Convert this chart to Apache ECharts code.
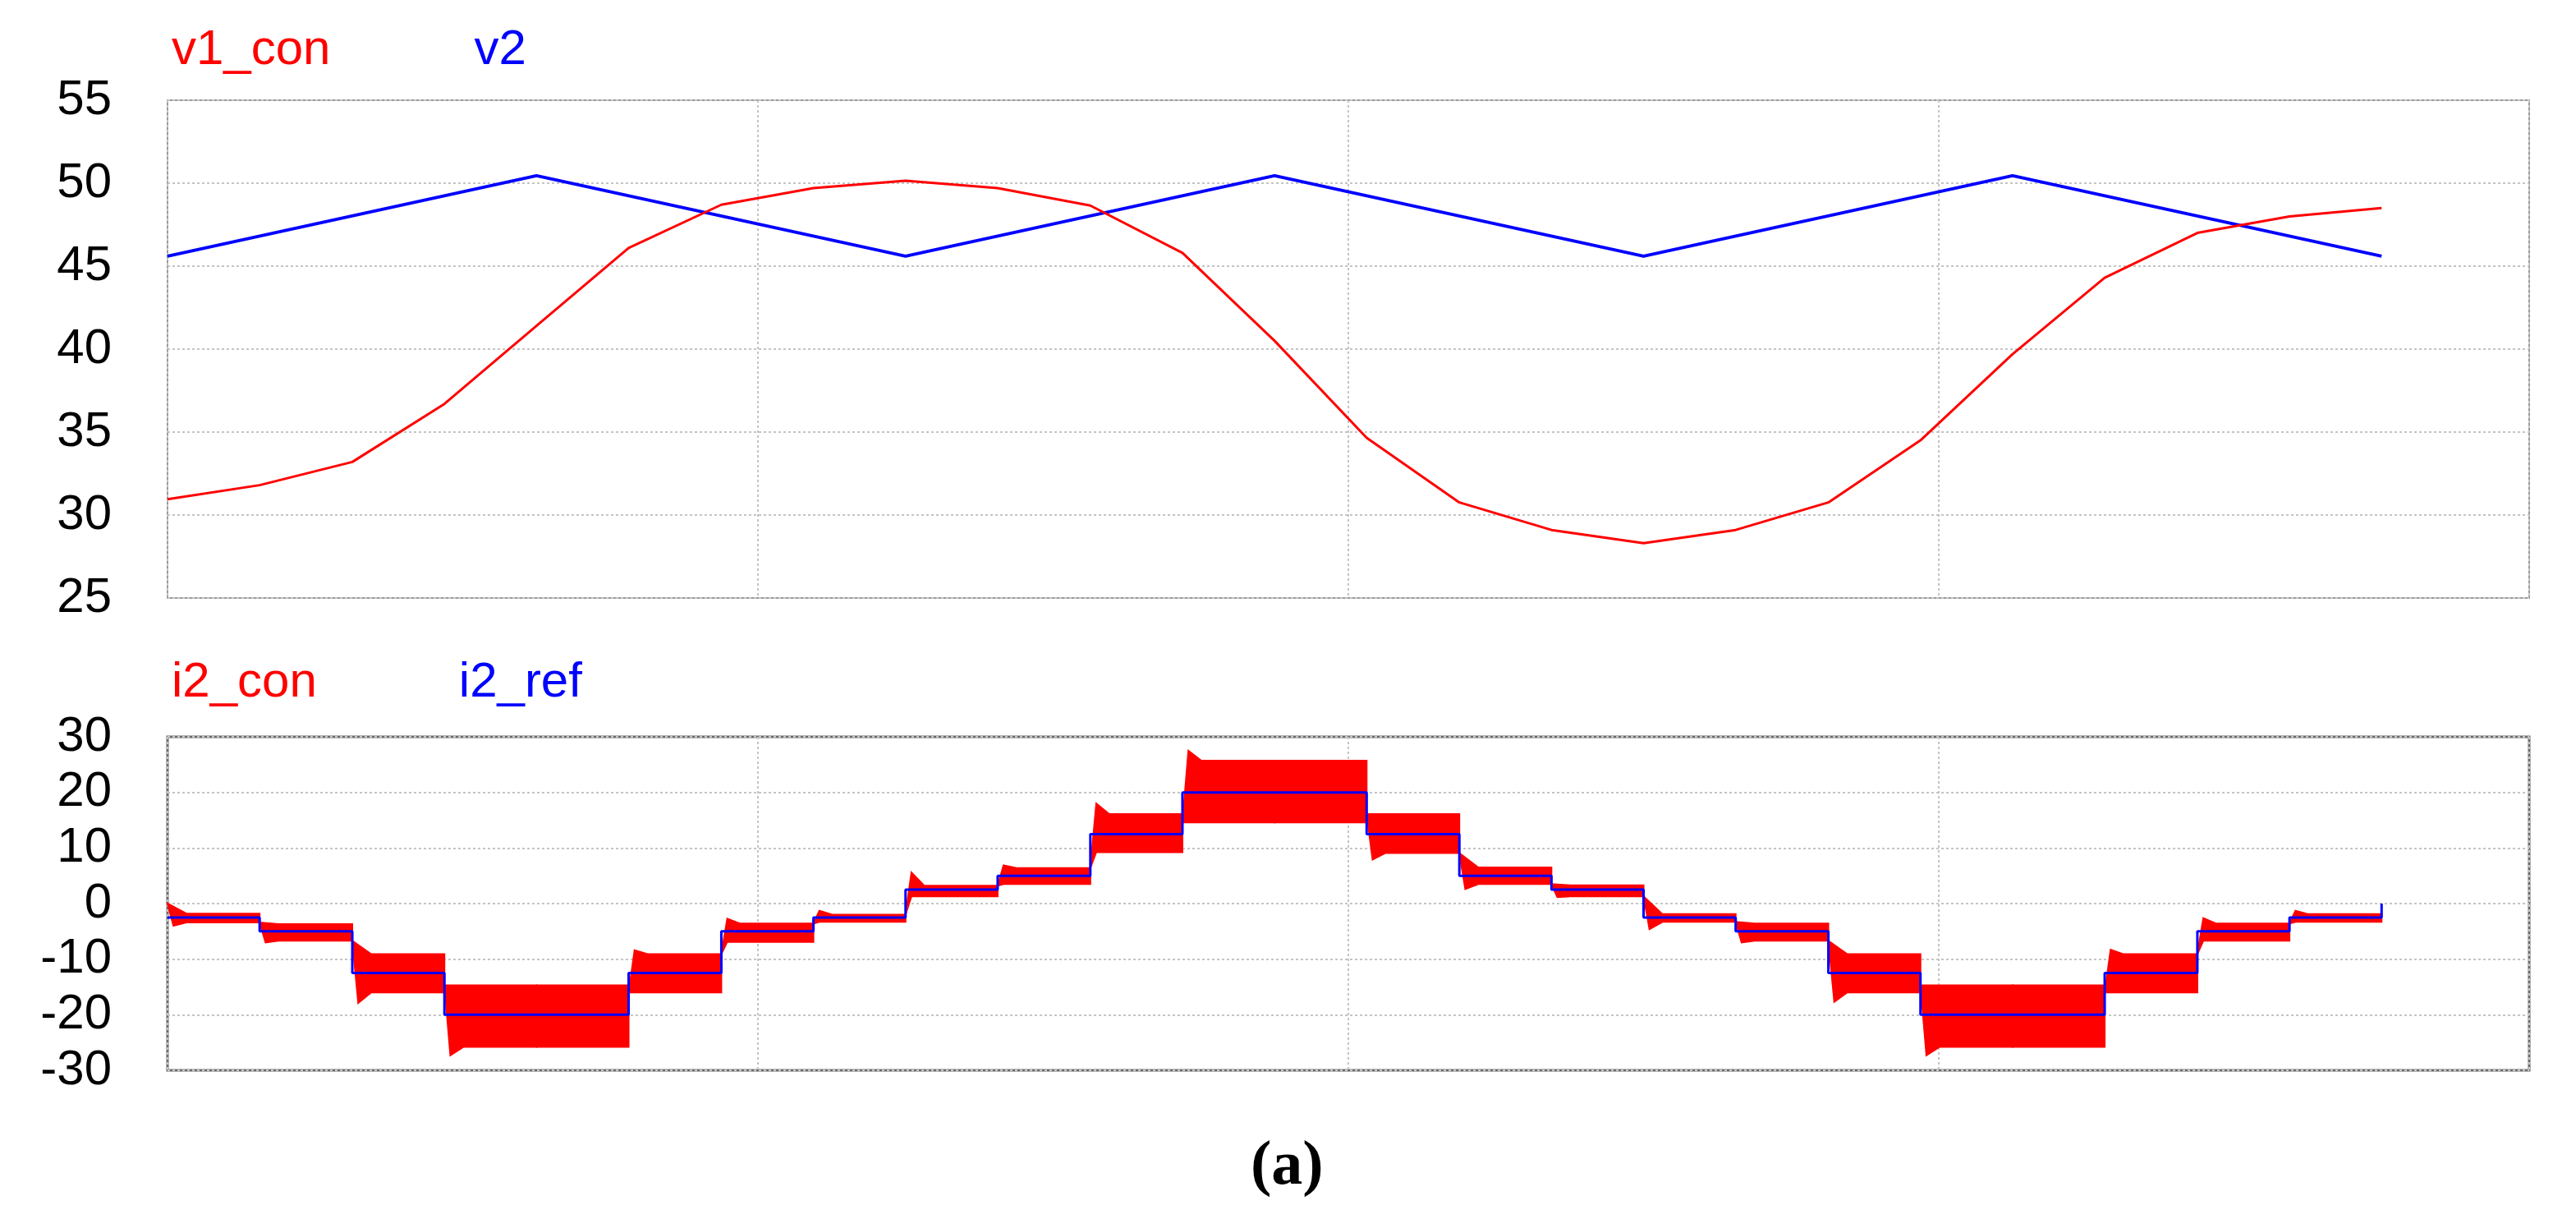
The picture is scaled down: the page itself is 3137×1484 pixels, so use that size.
<!DOCTYPE html>
<html><head><meta charset="utf-8">
<script src="https://cdn.jsdelivr.net/npm/echarts@6/dist/echarts.min.js"></script>
<style>html,body{margin:0;padding:0;background:#fff}#c{width:3137px;height:1484px}</style>
</head><body><div id="c"></div>
<script>
// ---- top panel: voltages ----
const v1Times = [0,0.156,0.313,0.469,0.625,0.781,0.938,1.094,1.25,1.406,1.563,1.719,1.875,2.031,2.188,2.344,2.5,2.656,2.813,2.969,3.125,3.281,3.438,3.594,3.75];
const v1Con   = [30.95,31.8,33.2,36.7,41.4,46.1,48.7,49.7,50.15,49.7,48.65,45.8,40.5,34.65,30.76,29.1,28.3,29.1,30.76,34.5,39.7,44.3,47.0,48.0,48.5];
const v2Times = [0,0.625,1.25,1.875,2.5,3.125,3.75];
const v2      = [45.6,50.45,45.6,50.45,45.6,50.45,45.6];
const topYMin = 25, topYMax = 55, topYStep = 5;

// ---- bottom panel: currents ----
const stepTimes = [0,0.156,0.313,0.469,0.625,0.781,0.938,1.094,1.25,1.406,1.563,1.719,1.875,2.031,2.188,2.344,2.5,2.656,2.813,2.969,3.125,3.281,3.438,3.594,3.75];
const i2Ref     = [-2.5,-5,-12.5,-20,-20,-12.5,-5,-2.5,2.5,5,12.5,20,20,12.5,5,2.5,-2.5,-5,-12.5,-20,-20,-12.5,-5,-2.5,0];
const i2ConHigh = [-1.8,-3.7,-9.1,-14.7,-14.7,-9.1,-3.6,-2.0,3.2,6.4,16.1,25.7,25.7,16.1,6.5,3.3,-1.9,-3.6,-9.1,-14.7,-14.7,-9.1,-3.6,-1.9];
const i2ConLow  = [-3.4,-6.7,-16.0,-25.8,-25.8,-16.0,-6.9,-3.3,1.3,3.5,9.25,14.6,14.6,9.1,3.5,1.3,-3.3,-6.7,-16.0,-25.8,-25.8,-16.0,-6.7,-3.3];
const i2ConPeak = [-4.0,-7.0,-17.9,-27.3,null,-8.4,-2.7,-1.3,5.6,6.9,18.0,27.5,null,7.9,2.6,1.15,-4.6,-7.0,-17.7,-27.3,null,-8.3,-2.6,-1.3];
const botYMin = -30, botYMax = 30, botYStep = 10;
const xMin = 0, xMax = 4, xStep = 1;

const FONT = 'Liberation Sans, Arial, sans-serif';
const D1 = 0.01, D2 = 0.032;

const bandData = i2ConLow.map((lo, k) => [stepTimes[k], stepTimes[k + 1], lo, i2ConHigh[k]]);

function renderBand(params, api) {
  const k = params.dataIndex;
  const t0 = api.value(0), t1 = api.value(1), lo = api.value(2), hi = api.value(3);
  const pk = i2ConPeak[k];
  const prevLo = k === 0 ? 0 : i2ConLow[k - 1];
  const prevHi = k === 0 ? 0 : i2ConHigh[k - 1];
  let pts;
  if (pk == null) {
    pts = [[t0, hi], [t1, hi], [t1, lo], [t0, lo]];
  } else if (pk > hi) {
    const s = Math.min(lo, prevHi);
    pts = [[t0, s], [t0 + D1, pk], [t0 + D2, hi], [t1, hi], [t1, lo], [t0 + D1, lo]];
  } else {
    const s = Math.max(hi, prevLo);
    pts = [[t0, s], [t0 + D2, hi], [t1, hi], [t1, lo], [t0 + D2, lo], [t0 + D1, pk]];
  }
  return {
    type: 'polygon',
    shape: { points: pts.map(p => api.coord(p)) },
    style: { fill: '#ff0000', stroke: '#ff0000', lineWidth: 2 }
  };
}

const gridLine = { show: true, lineStyle: { type: [3, 3], color: '#c4c4c4', width: 2 } };
const yLabel = { fontSize: 60, fontFamily: FONT, color: '#000', margin: 68 };

const chart = echarts.init(document.getElementById('c'), null, { renderer: 'canvas' });
chart.setOption({
  animation: false,
  backgroundColor: '#fff',
  title: {
    text: '{p|(}{b|a}{p|)}',
    left: 1518,
    top: 1378,
    textStyle: {
      rich: {
        p: { fontFamily: 'Liberation Serif, Times New Roman, serif', fontSize: 76, color: '#000' },
        b: { fontFamily: 'Liberation Serif, Times New Roman, serif', fontSize: 76, fontWeight: 'bold', color: '#000' }
      }
    }
  },
  legend: [
    {
      data: [{ name: 'v1_con', textStyle: { color: '#ff0000' } }, { name: 'v2', textStyle: { color: '#0000ff' } }],
      left: 199, top: 26, icon: 'none', itemWidth: 0, itemGap: 170, selectedMode: false,
      textStyle: { fontSize: 60, fontFamily: FONT }
    },
    {
      data: [{ name: 'i2_con', textStyle: { color: '#ff0000' } }, { name: 'i2_ref', textStyle: { color: '#0000ff' } }],
      left: 199, top: 796, icon: 'none', itemWidth: 0, itemGap: 168, selectedMode: false,
      textStyle: { fontSize: 60, fontFamily: FONT }
    }
  ],
  grid: [
    { left: 204, right: 57, top: 122, height: 606, show: true, borderColor: '#9a9a9a', borderWidth: 2, backgroundColor: 'transparent' },
    { left: 204, right: 57, top: 897, height: 406, show: true, borderColor: '#6a6a6a', borderWidth: 3, backgroundColor: 'transparent' }
  ],
  xAxis: [
    { type: 'value', gridIndex: 0, min: xMin, max: xMax, interval: xStep, axisLine: { show: false }, axisTick: { show: false }, axisLabel: { show: false }, splitLine: gridLine },
    { type: 'value', gridIndex: 1, min: xMin, max: xMax, interval: xStep, axisLine: { show: false }, axisTick: { show: false }, axisLabel: { show: false }, splitLine: gridLine }
  ],
  yAxis: [
    { type: 'value', gridIndex: 0, min: topYMin, max: topYMax, interval: topYStep, axisLine: { show: false }, axisTick: { show: false }, axisLabel: yLabel, splitLine: gridLine },
    { type: 'value', gridIndex: 1, min: botYMin, max: botYMax, interval: botYStep, axisLine: { show: false }, axisTick: { show: false }, axisLabel: yLabel, splitLine: gridLine }
  ],
  series: [
    {
      name: 'v1_con', type: 'line', xAxisIndex: 0, yAxisIndex: 0, showSymbol: false, z: 3,
      data: v1Times.map((t, k) => [t, v1Con[k]]),
      lineStyle: { color: '#ff0000', width: 3 }, itemStyle: { color: '#ff0000' }
    },
    {
      name: 'v2', type: 'line', xAxisIndex: 0, yAxisIndex: 0, showSymbol: false, z: 2,
      data: v2Times.map((t, k) => [t, v2[k]]),
      lineStyle: { color: '#0000ff', width: 4 }, itemStyle: { color: '#0000ff' }
    },
    {
      name: 'i2_con', type: 'custom', xAxisIndex: 1, yAxisIndex: 1, z: 2,
      renderItem: renderBand,
      encode: { x: [0, 1], y: [2, 3] },
      data: bandData,
      itemStyle: { color: '#ff0000' }
    },
    {
      name: 'i2_ref', type: 'line', xAxisIndex: 1, yAxisIndex: 1, showSymbol: false, z: 3, step: 'end',
      data: stepTimes.map((t, k) => [t, i2Ref[k]]),
      lineStyle: { color: '#0000ff', width: 3 }, itemStyle: { color: '#0000ff' }
    }
  ]
});
</script>
</body></html>
